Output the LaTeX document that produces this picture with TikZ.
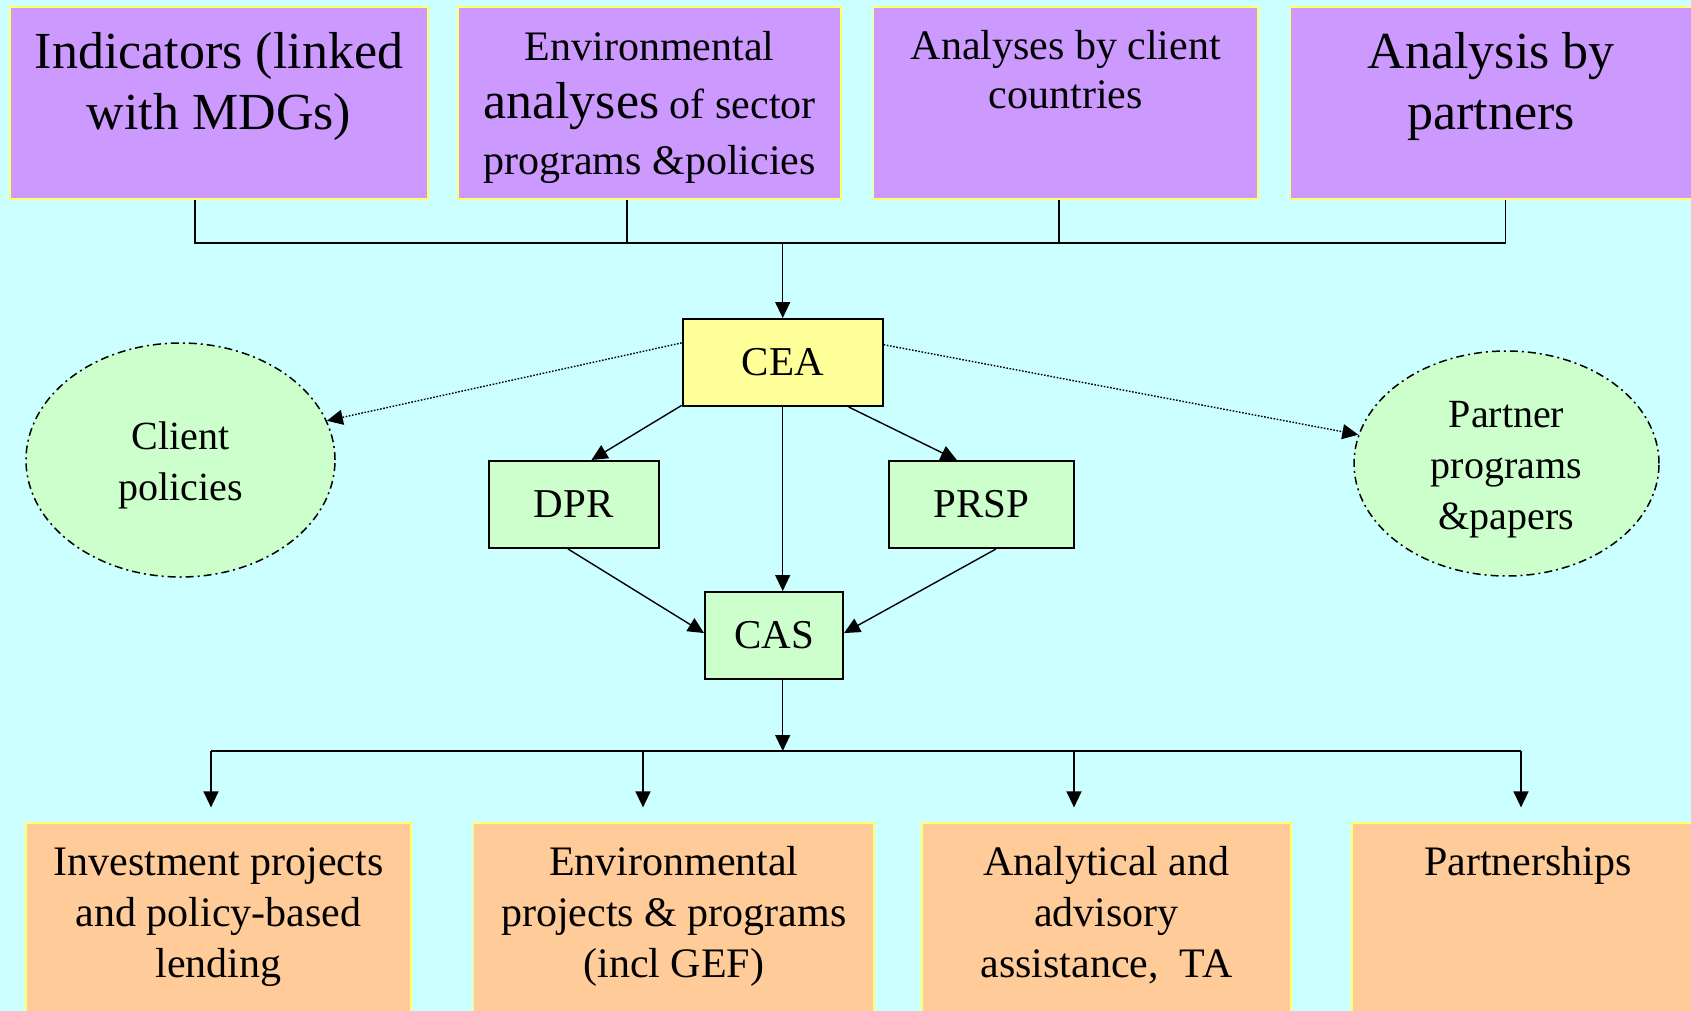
\documentclass[tikz,border=0pt]{standalone}
\usepackage{fontspec}
\setmainfont{Liberation Serif}
\usetikzlibrary{arrows.meta,shapes.geometric}

\definecolor{bgcyan}{HTML}{CCFFFF}
\definecolor{lilac}{HTML}{CC99FF}
\definecolor{peach}{HTML}{FFCC99}
\definecolor{paleyellow}{HTML}{FFFF99}
\definecolor{palegreen}{HTML}{CCFFCC}
\definecolor{rimyellow}{HTML}{FFFF66}

% text set at the top of a fixed box: width, height, first baseline, text
\newcommand{\boxtext}[4]{\parbox[c][#2][t]{#1}{\centering\rule{0pt}{#3}#4}}

\tikzset{
  source/.style={fill=lilac, draw=rimyellow, line width=0.6pt, inner sep=0pt},
  output/.style={fill=peach, draw=rimyellow, line width=0.6pt, inner sep=0pt,
                 font=\fontsize{21pt}{25.5pt}\selectfont},
  doc/.style={fill=palegreen, draw=black, line width=1pt, inner sep=0pt,
              minimum height=43.5pt, font=\fontsize{20.5pt}{24pt}\selectfont},
  oval/.style={ellipse, fill=palegreen, draw=black, line width=0.75pt,
               dash pattern=on 4pt off 2pt on 1pt off 2pt, inner sep=0pt,
               align=center, font=\fontsize{20pt}{25.5pt}\selectfont},
  bus/.style={line width=0.8pt},
  arr/.style={line width=0.7pt, -{Triangle[length=8pt,width=7.5pt]}},
  hint/.style={arr, dash pattern=on 0.8pt off 0.8pt}
}

\begin{document}
\begin{tikzpicture}[x=0.5pt,y=-0.5pt]

% Page and background
\useasboundingbox (0,0) rectangle (1691,1011);
\clip (0,0) rectangle (1691,1011);
\fill[bgcyan] (0,0) rectangle (1691,1011);

% Inputs at the top
\node[source, font=\fontsize{26pt}{30.5pt}\selectfont] (indic) at (219,103)
  {\boxtext{209pt}{96pt}{30.5pt}{Indicators (linked\\with MDGs)}};
\node[source, font=\fontsize{21pt}{27.5pt}\selectfont] (envan) at (649.5,103)
  {\boxtext{191.5pt}{96pt}{26.5pt}{Environmental\\[2pt]{\fontsize{26pt}{27.5pt}\selectfont analyses} of sector\\programs \&policies}};
\node[source, font=\fontsize{21pt}{25pt}\selectfont] (clian) at (1065.8,103)
  {\boxtext{192.2pt}{96pt}{26pt}{Analyses by client\\countries}};
\node[source, font=\fontsize{26pt}{30.5pt}\selectfont] (partan) at (1491.25,103)
  {\boxtext{200.75pt}{96pt}{30.5pt}{Analysis by\\partners}};

% Core documents
\node[doc, fill=paleyellow, minimum width=100pt] (CEA) at (782.7,362.5) {CEA};
\node[doc, minimum width=85pt] (DPR) at (573.5,504.5) {DPR};
\node[doc, minimum width=92.5pt] (PRSP) at (981.5,504.5) {PRSP};
\node[doc, minimum width=69pt] (CAS) at (774,635.5) {CAS};

% Outside influences
\node[oval, minimum width=154.5pt, minimum height=117pt] (client) at (180.5,460)
  {\rule{0pt}{19.5pt}Client\\policies};
\node[oval, minimum width=152.5pt, minimum height=112.5pt] (partner) at (1506.5,463.5)
  {\rule{0pt}{19.5pt}Partner\\programs\\\&papers};

% Outputs at the bottom
\node[output] (invest) at (218.5,919)
  {\boxtext{192.5pt}{96pt}{26pt}{Investment projects\\and policy-based\\lending}};
\node[output] (envproj) at (673.8,919)
  {\boxtext{200.2pt}{96pt}{26pt}{Environmental\\projects \& programs\\(incl GEF)}};
\node[output] (advis) at (1106.5,919)
  {\boxtext{184.5pt}{96pt}{26pt}{Analytical and\\advisory\\assistance,~ TA}};
\node[output] (partsh) at (1528,919)
  {\boxtext{176pt}{96pt}{26pt}{Partnerships}};

% Collector line into the CEA
\coordinate (t1) at (195,243);
\coordinate (t2) at (627,243);
\coordinate (t3) at (1059,243);
\coordinate (t4) at (1505.5,243);
\draw[bus] (t1 |- indic.south) -- (t1) -- (t4) -- (t4 |- partan.south);
\draw[bus] (t2 |- envan.south) -- (t2);
\draw[bus] (t3 |- clian.south) -- (t3);
\draw[arr] (CEA |- t1) -- (CEA.north);

% Flow between the documents
\draw[arr] (CEA.203) -- (DPR.68);
\draw[arr] (CEA.-34) -- (PRSP.119);
\draw[arr] (CEA.south) -- (CEA |- CAS.north);
\draw[arr] (DPR.263) -- (CAS.178);
\draw[arr] (PRSP.288) -- (CAS.2);
\draw[hint] (CEA.169) -- (client.15);
\draw[hint] (CEA.10) -- (partner.169);

% Distribution line to the outputs
\coordinate (b1) at (211,751);
\coordinate (b2) at (643,751);
\coordinate (b3) at (1074,751);
\coordinate (b4) at (1521,751);
\draw[bus] (b1) -- (b4);
\draw[arr] (CAS.south -| CEA) -- (CEA |- b1);
\draw[arr, shorten >=7.5pt] (b1) -- (b1 |- invest.north);
\draw[arr, shorten >=7.5pt] (b2) -- (b2 |- envproj.north);
\draw[arr, shorten >=7.5pt] (b3) -- (b3 |- advis.north);
\draw[arr, shorten >=7.5pt] (b4) -- (b4 |- partsh.north);

\end{tikzpicture}
\end{document}
